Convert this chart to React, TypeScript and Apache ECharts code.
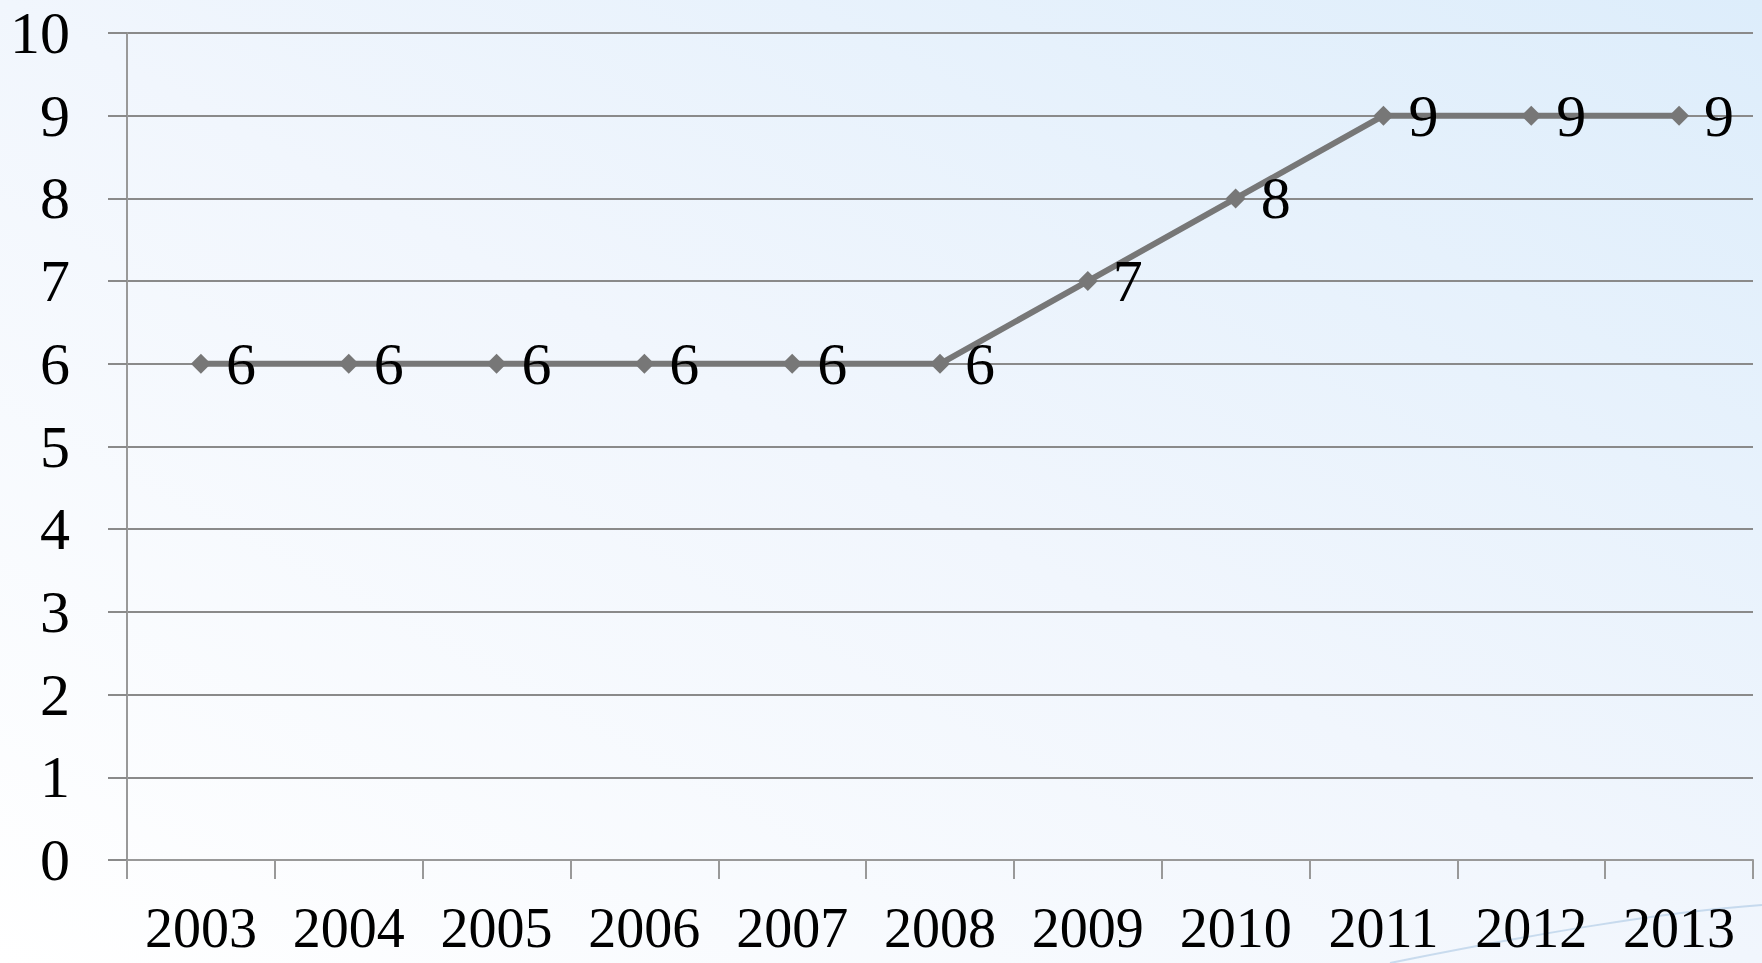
import React, { useEffect, useRef } from "react";
import * as echarts from "echarts";

const years = ["2003", "2004", "2005", "2006", "2007", "2008", "2009", "2010", "2011", "2012", "2013"];
const values = [6, 6, 6, 6, 6, 6, 7, 8, 9, 9, 9];
const yMin = 0;
const yMax = 10;
const yStep = 1;

const FONT = "'Liberation Serif', 'DejaVu Serif', serif";

export default function App() {
  const ref = useRef<HTMLDivElement>(null);

  useEffect(() => {
    document.body.style.margin = "0";
    if (!ref.current) return;
    const chart = echarts.init(ref.current, null, { renderer: "svg" });
    chart.setOption({
      animation: false,
      backgroundColor: {
        type: "linear",
        x: 0,
        y: 1,
        x2: 1,
        y2: 0,
        colorStops: [
          { offset: 0, color: "#ffffff" },
          { offset: 0.5, color: "#f1f6fd" },
          { offset: 1, color: "#ddedfb" },
        ],
      },
      graphic: [
        {
          type: "bezierCurve",
          silent: true,
          z: -1,
          shape: { x1: 1390, y1: 963, x2: 1762, y2: 905, cpx1: 1530, cpy1: 935, cpx2: 1660, cpy2: 912 },
          style: { stroke: "rgba(120,165,210,0.35)", lineWidth: 2, fill: "none" },
        },
      ],
      grid: { left: 127, right: 9, top: 33, bottom: 103, containLabel: false },
      xAxis: {
        type: "category",
        data: years,
        boundaryGap: true,
        axisLine: { show: true, lineStyle: { color: "#999999", width: 2 } },
        axisTick: { show: true, length: 19, interval: 0, lineStyle: { color: "#999999", width: 2 } },
        axisLabel: {
          interval: 0,
          color: "#000000",
          fontFamily: FONT,
          fontSize: 56,
          lineHeight: 56,
          margin: 40,
        },
      },
      yAxis: {
        type: "value",
        min: yMin,
        max: yMax,
        interval: yStep,
        axisLine: { show: true, lineStyle: { color: "#999999", width: 2 } },
        axisTick: { show: true, length: 19, lineStyle: { color: "#8a8a8a", width: 2 } },
        splitLine: { show: true, lineStyle: { color: "#8a8a8a", width: 2 } },
        axisLabel: { color: "#000000", fontFamily: FONT, fontSize: 60, margin: 57 },
      },
      series: [
        {
          type: "line",
          data: values,
          symbol: "diamond",
          symbolSize: 20,
          itemStyle: { color: "#777777" },
          lineStyle: { color: "#777777", width: 6 },
          label: {
            show: true,
            position: "right",
            distance: 15,
            color: "#000000",
            fontFamily: FONT,
            fontSize: 60,
          },
        },
      ],
    });
    return () => chart.dispose();
  }, []);

  return <div ref={ref} style={{ width: 1762, height: 963 }} />;
}
